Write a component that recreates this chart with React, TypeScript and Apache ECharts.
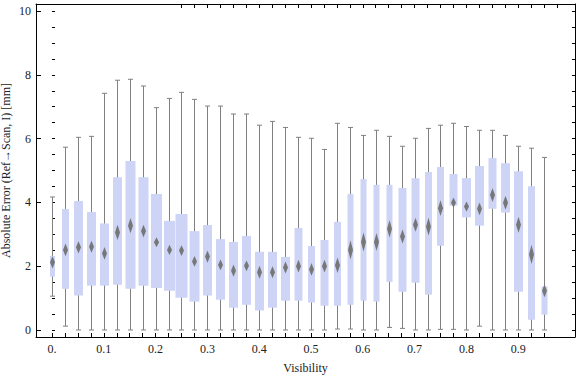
import React, { useEffect, useRef } from "react";
import * as echarts from "echarts";

// Visibility value of each box
const positions = [
  0, 0.025, 0.05, 0.075, 0.1, 0.125, 0.15, 0.175, 0.2, 0.225,
  0.25, 0.275, 0.3, 0.325, 0.35, 0.375, 0.4, 0.425, 0.45, 0.475,
  0.5, 0.525, 0.55, 0.575, 0.6, 0.625, 0.65, 0.675, 0.7, 0.725,
  0.75, 0.775, 0.8, 0.825, 0.85, 0.875, 0.9, 0.925, 0.95,
];
// whisker low / high
const lows = [
  1.06, 0.12, 0, 0, 0, 0, 0, 0, 0, 0,
  0, 0, 0, 0, 0, 0, 0, 0, 0, 0,
  0, 0, 0.03, 0.03, 0, 0, 0.08, 0.05, 0, 0,
  0.02, 0.02, 0, 0.12, 0, 0, 0, 0, 0,
];
const highs = [
  4.17, 5.73, 6.04, 6.07, 7.42, 7.83, 7.86, 7.65, 6.97, 7.26,
  7.45, 7.23, 7.02, 7.02, 6.77, 6.77, 6.42, 6.54, 6.35, 6.04,
  6.01, 5.66, 6.48, 6.35, 6.1, 6.26, 6.07, 5.76, 6.01, 6.32,
  6.42, 6.48, 6.38, 6.26, 6.26, 6.1, 5.76, 5.7, 5.41,
];
// quartiles
const q1s = [
  1.67, 1.29, 1.08, 1.39, 1.39, 1.42, 1.29, 1.39, 1.32, 1.23,
  1.01, 0.89, 1.08, 0.95, 0.7, 0.79, 0.61, 0.7, 0.92, 0.92,
  0.86, 0.76, 0.76, 0.79, 0.92, 0.89, 1.51, 1.2, 1.48, 1.11,
  2.64, 3.9, 3.53, 3.27, 3.8, 3.68, 1.2, 0.32, 0.48,
];
const q3s = [
  2.32, 3.79, 4.04, 3.7, 3.34, 4.79, 5.3, 4.79, 4.26, 3.42,
  3.64, 3.1, 3.29, 2.85, 2.76, 2.95, 2.45, 2.45, 2.29, 3.2,
  2.63, 2.82, 3.39, 4.26, 4.73, 4.55, 4.55, 4.45, 4.76, 4.95,
  5.11, 4.89, 4.76, 5.14, 5.39, 5.23, 4.98, 4.51, 1.36,
];
// mean (diamond centre) and half confidence interval (diamond half height)
const means = [
  2.12, 2.51, 2.59, 2.61, 2.4, 3.06, 3.27, 3.1, 2.75, 2.51,
  2.49, 2.15, 2.3, 2.04, 1.86, 2.01, 1.81, 1.81, 1.96, 2.0,
  1.9, 2.0, 2.03, 2.51, 2.76, 2.76, 3.17, 2.93, 3.3, 3.24,
  3.82, 3.99, 3.87, 3.8, 4.23, 3.99, 3.3, 2.37, 1.23,
];
const ciHalf = [
  0.19, 0.2, 0.19, 0.19, 0.2, 0.24, 0.24, 0.2, 0.16, 0.16,
  0.17, 0.17, 0.19, 0.17, 0.19, 0.17, 0.2, 0.19, 0.19, 0.2,
  0.2, 0.2, 0.24, 0.3, 0.3, 0.28, 0.27, 0.22, 0.22, 0.28,
  0.25, 0.16, 0.16, 0.2, 0.22, 0.22, 0.25, 0.3, 0.2,
];
// box span along the visibility axis
const boxSpans = [
  0.0097, 0.0135, 0.0174, 0.0174, 0.0174, 0.0174, 0.0193, 0.0193, 0.0212, 0.0212,
  0.0232, 0.0193, 0.0174, 0.0174, 0.0174, 0.0174, 0.0174, 0.0174, 0.0174, 0.0154,
  0.0135, 0.0154, 0.0135, 0.0116, 0.0116, 0.0116, 0.0116, 0.0154, 0.0154, 0.0135,
  0.0135, 0.0154, 0.0174, 0.0174, 0.0154, 0.0174, 0.0174, 0.0135, 0.0116,
];

const xTickLabels = [0, 0.1, 0.2, 0.3, 0.4, 0.5, 0.6, 0.7, 0.8, 0.9];
const topTicks = [
  0.25, 0.275, 0.3, 0.325, 0.35, 0.375, 0.4, 0.425, 0.45, 0.475,
  0.5, 0.525, 0.55, 0.575, 0.6, 0.625, 0.65, 0.675, 0.7, 0.725,
  0.75, 0.775, 0.8, 0.825, 0.85, 0.875, 0.9, 0.925, 0.95, 0.975,
];
const yTickLabels = [0, 2, 4, 6, 8, 10];
const yMinorTicks = [
  0, 0.5, 1, 1.5, 2, 2.5, 3, 3.5, 4, 4.5, 5, 5.5, 6, 6.5, 7, 7.5, 8, 8.5, 9, 9.5, 10,
];

const X_MIN = -0.0309;
const X_MAX = 1.0097;
const Y_MIN = -0.22;
const Y_MAX = 10.22;

const FONT = '"Liberation Serif", "DejaVu Serif", serif';

export default function App() {
  const ref = useRef<HTMLDivElement>(null);

  useEffect(() => {
    if (!ref.current) return;
    const chart = echarts.init(ref.current, undefined, { renderer: "svg" });
    const data = positions.map((p, i) => [
      p, lows[i], q1s[i], means[i], q3s[i], highs[i], boxSpans[i], ciHalf[i],
    ]);

    const labelStyle = { color: "#222", fontFamily: FONT, fontSize: 12 };

    chart.setOption({
      animation: false,
      backgroundColor: "#fff",
      grid: { left: 36, right: 1, top: 4, bottom: 40, containLabel: false, outerBoundsMode: "none" },
      xAxis: [
        {
          type: "value",
          position: "bottom",
          min: X_MIN,
          max: X_MAX,
          axisLine: { show: true, onZero: false, lineStyle: { color: "#000", width: 1 } },
          axisTick: { show: true, inside: true, length: 4, customValues: positions, lineStyle: { color: "#000" } },
          axisLabel: {
            ...labelStyle,
            margin: 6,
            customValues: xTickLabels,
            formatter: (v: number) => (v === 0 ? "0." : v.toFixed(1)),
          },
          splitLine: { show: false },
          name: "Visibility",
          nameLocation: "middle",
          nameGap: 25,
          nameMoveOverlap: false,
          nameTextStyle: { ...labelStyle },
        },
        {
          type: "value",
          position: "top",
          min: X_MIN,
          max: X_MAX,
          axisLine: { show: true, onZero: false, lineStyle: { color: "#000", width: 1 } },
          axisTick: { show: true, inside: true, length: 4, customValues: topTicks, lineStyle: { color: "#000" } },
          axisLabel: { show: false },
          splitLine: { show: false },
        },
      ],
      yAxis: [
        {
          type: "value",
          position: "left",
          min: Y_MIN,
          max: Y_MAX,
          axisLine: { show: true, onZero: false, lineStyle: { color: "#000", width: 1 } },
          axisTick: { show: true, inside: true, length: 5, customValues: yTickLabels, lineStyle: { color: "#000" } },
          axisLabel: { ...labelStyle, margin: 5, customValues: yTickLabels },
          splitLine: { show: false },
          name: "Absolute Error (Ref→Scan, I) [mm]",
          nameLocation: "middle",
          nameGap: 24,
          nameMoveOverlap: false,
          nameTextStyle: { ...labelStyle },
        },
        {
          type: "value",
          position: "left",
          min: Y_MIN,
          max: Y_MAX,
          axisLine: { show: false },
          axisTick: { show: true, inside: true, length: 3, customValues: yMinorTicks, lineStyle: { color: "#000" } },
          axisLabel: { show: false },
          splitLine: { show: false },
        },
        {
          type: "value",
          position: "right",
          min: Y_MIN,
          max: Y_MAX,
          axisLine: { show: true, onZero: false, lineStyle: { color: "#000", width: 1 } },
          axisTick: { show: true, inside: true, length: 3, customValues: yMinorTicks, lineStyle: { color: "#000" } },
          axisLabel: { show: false },
          splitLine: { show: false },
        },
      ],
      series: [
        {
          type: "custom",
          xAxisIndex: 0,
          yAxisIndex: 0,
          encode: { x: 0, y: [1, 2, 3, 4, 5] },
          data,
          clip: false,
          renderItem: (params: any, api: any) => {
            const x = api.value(0);
            const lo = api.value(1);
            const q1 = api.value(2);
            const m = api.value(3);
            const q3 = api.value(4);
            const hi = api.value(5);
            const span = api.value(6);
            const ci = api.value(7);
            const pLo = api.coord([x, lo]);
            const pHi = api.coord([x, hi]);
            const pQ1 = api.coord([x, q1]);
            const pQ3 = api.coord([x, q3]);
            const pM = api.coord([x, m]);
            const pT = api.coord([x, m + ci]);
            const pB = api.coord([x, m - ci]);
            const bw = api.size([span, 0])[0];
            const cx = Math.round(pLo[0]) + 0.5;
            const stroke = { stroke: "#808080", lineWidth: 1 };
            return {
              type: "group",
              children: [
                { type: "line", shape: { x1: cx, y1: pLo[1], x2: cx, y2: pHi[1] }, style: stroke },
                { type: "line", shape: { x1: cx - 2.5, y1: pLo[1], x2: cx + 2.5, y2: pLo[1] }, style: stroke },
                { type: "line", shape: { x1: cx - 2.5, y1: pHi[1], x2: cx + 2.5, y2: pHi[1] }, style: stroke },
                {
                  type: "rect",
                  shape: { x: cx - bw / 2, y: pQ3[1], width: bw, height: pQ1[1] - pQ3[1] },
                  style: { fill: "#cdd4f6" },
                },
                {
                  type: "polygon",
                  shape: {
                    points: [
                      [cx, pT[1]],
                      [cx + 2.5, pM[1]],
                      [cx, pB[1]],
                      [cx - 2.5, pM[1]],
                    ],
                  },
                  style: { fill: "#777777" },
                },
              ],
            };
          },
        },
      ],
    });

    return () => chart.dispose();
  }, []);

  return (
    <div
      ref={ref}
      style={{ position: "fixed", left: 0, top: 0, width: 576, height: 377, background: "#fff" }}
    />
  );
}
